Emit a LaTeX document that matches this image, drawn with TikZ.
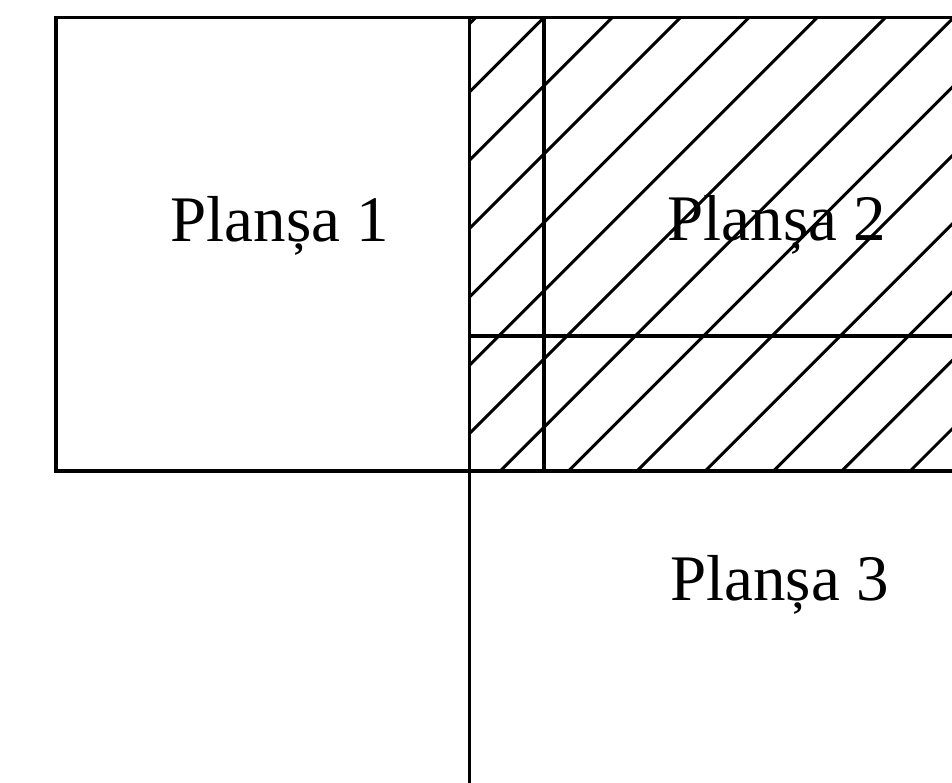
\documentclass[tikz,border=0pt]{standalone}
\usepackage{fontspec}
\setmainfont{Liberation Serif}
\begin{document}
\begin{tikzpicture}[x=1pt,y=-1pt,
  frame/.style={line width=3.3pt,line cap=rect},
  hatchline/.style={line width=3pt},
  lbl/.style={anchor=base,inner sep=0pt,font=\fontsize{65}{78}\selectfont}]
\useasboundingbox (0,0) rectangle (952,782);
% hatching of sheet 2
\begin{scope}
  \clip (469.5,17.5) rectangle (952,471);
  \foreach \hc in {493.2,561.5,629.8,698.1,766.4,834.7,903.0,971.3,1039.6,1107.9,1176.2,1244.5,1312.8,1381.1}{
    \draw[hatchline] (\hc-480,480) -- (\hc-10,10);
  }
\end{scope}
% frames
\draw[frame] (56,17.5) -- (952,17.5);
\draw[frame] (56,471) -- (952,471);
\draw[frame] (56,17.5) -- (56,471);
\draw[frame] (469.5,17.5) -- (469.5,782);
\draw[frame] (544,17.5) -- (544,471);
\draw[frame] (469.5,336) -- (952,336);
% labels
\node[lbl] (p1) at (279.7,241.7) {Planșa 1};
\node[lbl] (p2) at (777,240) {Planșa 2};
\node[lbl] (p3) at (779.5,600) {Planșa 3};
\end{tikzpicture}
\end{document}
